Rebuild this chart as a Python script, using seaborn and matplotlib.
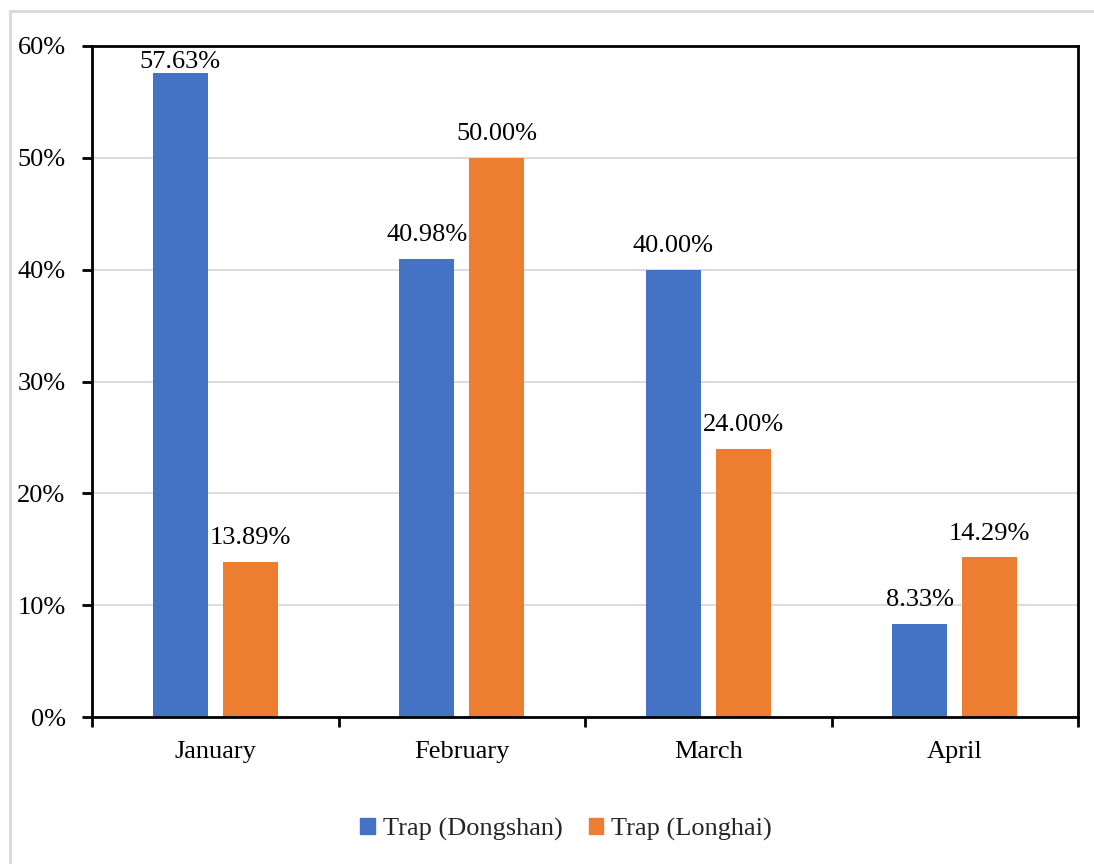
import numpy as np
import pandas as pd
import matplotlib.pyplot as plt
import seaborn as sns
from matplotlib.patches import Rectangle
from matplotlib.ticker import PercentFormatter, FixedLocator

months = ["January", "February", "March", "April"]
dongshan = [57.63, 40.98, 40.00, 8.33]
longhai = [13.89, 50.00, 24.00, 14.29]
series_names = ["Trap (Dongshan)", "Trap (Longhai)"]
colors = ["#4472C4", "#ED7D31"]

FS = 19

sns.set_theme(style="white")
plt.rcParams['font.family'] = ['Liberation Serif', 'DejaVu Serif']
plt.rcParams['font.size'] = FS

df = pd.DataFrame({
    "month": months * 2,
    "value": dongshan + longhai,
    "series": [series_names[0]] * 4 + [series_names[1]] * 4,
})

fig = plt.figure(figsize=(10.94, 8.64), dpi=100)
ax = fig.add_axes([92 / 1094, 147 / 864, 986 / 1094, 671 / 864])

sns.barplot(data=df, x="month", y="value", hue="series", palette=colors,
            width=0.568, gap=0.215, ax=ax, legend=False, saturation=1,
            linewidth=0)

ax.set_ylim(0, 60)
ax.set_xlim(-0.5, 3.5)
ax.set_yticks(np.arange(0, 61, 10))
ax.yaxis.set_major_formatter(PercentFormatter(decimals=0))
ax.grid(axis="y", color="#d9d9d9", linewidth=1.3)
ax.set_axisbelow(True)
ax.set_xlabel("")
ax.set_ylabel("")

for s in ax.spines.values():
    s.set_color("black")
    s.set_linewidth(2)

# тики оси X на границах категорий
ax.xaxis.set_minor_locator(FixedLocator(np.arange(-0.5, 4, 1)))
ax.tick_params(axis="x", which="major", length=0, pad=17, labelsize=FS, colors="black")
ax.tick_params(axis="x", which="minor", bottom=True, length=7, width=2, color="black")
ax.tick_params(axis="y", left=True, length=7, width=2, color="black", pad=12, labelsize=FS,
               labelcolor="black")

# подписи значений
for cont in ax.containers:
    for bar in cont:
        v = bar.get_height()
        pad = 0 if v > 55 else 9
        ax.annotate(f"{v:.2f}%", (bar.get_x() + bar.get_width() / 2, v),
                    xytext=(0, pad), textcoords="offset points",
                    ha="center", va="bottom", fontsize=FS, color="black",
                    annotation_clip=False)

handles = [Rectangle((0, 0), 1, 1, color=c) for c in colors]
fig.legend(handles, series_names, loc="center", bbox_to_anchor=(566 / 1094, 35 / 864),
           ncol=2, frameon=False, fontsize=FS, handlelength=0.55, handleheight=0.55,
           handletextpad=0.3, columnspacing=1.0)

# внешняя рамка области диаграммы
fig.patches.append(Rectangle((10 / 1094, -0.05), 1.1, (853 / 864) + 0.05,
                             transform=fig.transFigure, fill=False,
                             edgecolor="#d9d9d9", linewidth=2, zorder=0))

fig.savefig("out.png", dpi=100)
